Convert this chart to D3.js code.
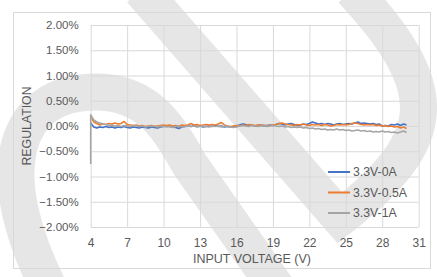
<!DOCTYPE html>
<html>
<head>
<meta charset="utf-8">
<script src="https://cdn.jsdelivr.net/npm/d3@7"></script>
<style>
  body { margin: 0; background: #fff; }
  svg { display: block; font-family: "Liberation Sans", Arial, sans-serif; }
</style>
</head>
<body>
<div id="chart"></div>
<script>
// Input voltage samples (V)
const volts = [
  4, 4.25, 4.5, 4.75, 5, 5.25, 5.5, 5.75, 6, 6.25, 6.5, 6.75, 7, 7.25, 7.5, 7.75,
  8, 8.25, 8.5, 8.75, 9, 9.25, 9.5, 9.75, 10, 10.25, 10.5, 10.75, 11, 11.25, 11.5, 11.75,
  12, 12.25, 12.5, 12.75, 13, 13.25, 13.5, 13.75, 14, 14.25, 14.5, 14.75, 15, 15.25, 15.5, 15.75,
  16, 16.25, 16.5, 16.75, 17, 17.25, 17.5, 17.75, 18, 18.25, 18.5, 18.75, 19, 19.25, 19.5, 19.75,
  20, 20.25, 20.5, 20.75, 21, 21.25, 21.5, 21.75, 22, 22.25, 22.5, 22.75, 23, 23.25, 23.5, 23.75,
  24, 24.25, 24.5, 24.75, 25, 25.25, 25.5, 25.75, 26, 26.25, 26.5, 26.75, 27, 27.25, 27.5, 27.75,
  28, 28.25, 28.5, 28.75, 29, 29.25, 29.5, 29.75, 30
];

// Regulation (%) per series
const reg0A = [
  0.06, -0.02, -0.04, -0.02, -0.03, -0.01, -0.03, -0.02, -0.04, -0.02, -0.03, -0.01, -0.03, -0.04, -0.02, -0.03,
  -0.04, -0.02, -0.03, -0.04, -0.02, -0.03, -0.04, -0.02, -0.01, 0.00, -0.01, -0.02, -0.03, -0.05, -0.02, -0.01,
  0.00, -0.01, 0.01, -0.01, 0.00, -0.02, -0.01, 0.00, -0.01, 0.01, -0.01, 0.00, -0.02, -0.01, -0.02, -0.01,
  0.00, 0.02, 0.04, 0.03, 0.01, 0.02, 0.00, 0.01, 0.02, 0.00, 0.01, 0.02, 0.01, 0.03, 0.05, 0.04,
  0.02, 0.04, 0.05, 0.03, 0.01, 0.02, 0.04, 0.03, 0.05, 0.08, 0.06, 0.04, 0.05, 0.03, 0.05, 0.04,
  0.02, 0.04, 0.05, 0.03, 0.04, 0.05, 0.04, 0.06, 0.08, 0.05, 0.06, 0.05, 0.04, 0.05, 0.03, 0.04,
  0.00, 0.01, 0.00, 0.03, 0.02, 0.04, 0.01, 0.04, 0.02
];
const reg05A = [
  0.20, 0.08, 0.05, 0.02, 0.04, 0.03, 0.05, 0.04, 0.06, 0.04, 0.05, 0.09, 0.03, 0.02, 0.01, 0.02,
  0.00, 0.01, -0.01, 0.00, 0.01, -0.01, 0.00, 0.01, 0.02, 0.01, 0.02, 0.00, 0.01, -0.01, 0.02, 0.01,
  0.02, 0.05, 0.02, 0.03, 0.01, 0.02, 0.03, 0.02, 0.03, 0.02, 0.04, 0.07, 0.02, 0.00, -0.01, 0.00,
  0.01, 0.00, 0.02, 0.01, 0.03, 0.02, 0.01, 0.02, 0.01, 0.02, 0.00, 0.01, 0.02, 0.03, 0.05, 0.06,
  0.04, 0.03, 0.02, 0.01, 0.03, 0.02, 0.04, 0.02, 0.01, 0.03, 0.02, 0.03, 0.01, 0.03, 0.02, 0.00,
  0.01, 0.03, 0.02, 0.03, 0.02, 0.03, 0.05, 0.06, 0.05, 0.03, 0.02, 0.03, 0.02, 0.03, 0.01, 0.02,
  0.00, 0.01, -0.01, 0.00, -0.02, -0.01, -0.04, -0.02, -0.05
];
// 1A trace starts with a dip at 4 V before the first grid sample
const reg1AStart = -0.75;
const reg1A = [
  0.22, 0.12, 0.08, 0.06, 0.04, 0.03, 0.01, 0.02, 0.00, 0.01, -0.01, 0.01, 0.00, -0.01, 0.01, 0.00,
  -0.01, 0.00, -0.02, 0.00, -0.01, 0.00, -0.02, -0.01, 0.00, -0.02, -0.01, -0.03, -0.01, 0.00, -0.02, -0.01,
  0.00, -0.01, 0.00, -0.02, -0.01, 0.00, -0.01, -0.02, 0.00, -0.01, 0.00, -0.02, -0.01, 0.00, -0.02, -0.03,
  -0.02, 0.00, 0.01, 0.00, -0.01, 0.01, 0.00, -0.01, 0.00, 0.01, -0.01, 0.00, 0.01, 0.00, -0.01, 0.00,
  -0.02, -0.01, -0.03, -0.02, -0.03, -0.02, -0.04, -0.03, -0.05, -0.04, -0.06, -0.05, -0.07, -0.06, -0.08, -0.07,
  -0.08, -0.06, -0.08, -0.07, -0.09, -0.08, -0.10, -0.09, -0.08, -0.10, -0.09, -0.11, -0.10, -0.12, -0.11, -0.12,
  -0.10, -0.12, -0.11, -0.13, -0.12, -0.14, -0.12, -0.10, -0.13
];

const seriesNames = ["3.3V-0A", "3.3V-0.5A", "3.3V-1A"];
const seriesColors = ["#4472c4", "#ed7d31", "#a5a5a5"];
const xTicks = [4, 7, 10, 13, 16, 19, 22, 25, 28, 31];
const yTicks = [-2, -1.5, -1, -0.5, 0, 0.5, 1, 1.5, 2];

const width = 437, height = 277;
const plot = { left: 90.7, right: 418.7, top: 25, bottom: 227 };

const svg = d3.select("#chart").append("svg")
  .attr("width", width)
  .attr("height", height);

// watermark in the background
const wm = svg.append("g")
  .attr("fill", "none")
  .attr("stroke", "#e6e6e6")
  .attr("stroke-width", 37);
wm.append("path").attr("d", "M55,300 C-15,170 15,90 98,92 C150,93 170,130 190,165 L285,300");
wm.append("path")
  .attr("stroke-linejoin", "miter")
  .attr("d", "M141,-10 L340,218 C440,140 445,90 352,-10");

// chart border
svg.append("rect")
  .attr("x", 13.5).attr("y", 12.5)
  .attr("width", 417).attr("height", 256)
  .attr("fill", "none")
  .attr("stroke", "#d9d9d9");

const x = d3.scaleLinear().domain([4, 31]).range([plot.left, plot.right]);
const y = d3.scaleLinear().domain([-2, 2]).range([plot.bottom, plot.top]);

// grid
svg.append("g")
  .attr("transform", `translate(0,${plot.bottom})`)
  .call(d3.axisBottom(x).tickValues(xTicks).tickSize(-(plot.bottom - plot.top)).tickFormat(""))
  .call(g => g.select(".domain").remove())
  .call(g => g.selectAll("line").attr("stroke", "#d9d9d9"));

svg.append("g")
  .attr("transform", `translate(${plot.left},0)`)
  .call(d3.axisLeft(y).tickValues(yTicks).tickSize(-(plot.right - plot.left)).tickFormat(""))
  .call(g => g.select(".domain").remove())
  .call(g => g.selectAll("line").attr("stroke", "#d9d9d9"));

// tick labels
svg.append("g")
  .attr("transform", `translate(0,${plot.bottom + 11})`)
  .call(d3.axisBottom(x).tickValues(xTicks).tickSize(0).tickPadding(0))
  .call(g => g.select(".domain").remove())
  .call(g => g.selectAll("text").attr("fill", "#595959").attr("font-size", 12)
    .attr("font-family", "Liberation Sans, Arial, sans-serif"));

svg.append("g")
  .attr("transform", `translate(${plot.left - 12},0)`)
  .call(d3.axisLeft(y).tickValues(yTicks).tickSize(0).tickPadding(0).tickFormat(d3.format(".2%")).tickFormat(d => d3.format(".2f")(d) + "%"))
  .call(g => g.select(".domain").remove())
  .call(g => g.selectAll("text").attr("fill", "#595959").attr("font-size", 11.5)
    .attr("font-family", "Liberation Sans, Arial, sans-serif"));

// axis titles
svg.append("text")
  .attr("x", 252).attr("y", 262.5)
  .attr("text-anchor", "middle")
  .attr("fill", "#595959").attr("font-size", 12.5)
  .text("INPUT VOLTAGE (V)");

svg.append("text")
  .attr("transform", "translate(31,126) rotate(-90)")
  .attr("text-anchor", "middle")
  .attr("fill", "#595959").attr("font-size", 12.3)
  .text("REGULATION");

// lines
const line = d3.line().x(d => x(d[0])).y(d => y(d[1]));
const seriesData = [
  volts.map((v, i) => [v, reg0A[i]]),
  volts.map((v, i) => [v, reg05A[i]]),
  [[volts[0], reg1AStart]].concat(volts.map((v, i) => [v, reg1A[i]]))
];

svg.append("g").selectAll("path")
  .data(seriesData)
  .join("path")
  .attr("fill", "none")
  .attr("stroke", (d, i) => seriesColors[i])
  .attr("stroke-width", 1.6)
  .attr("stroke-linejoin", "round")
  .attr("d", line);

// legend
const legend = svg.append("g").selectAll("g")
  .data(seriesNames)
  .join("g")
  .attr("transform", (d, i) => `translate(328,${172 + i * 20.5})`);

legend.append("line")
  .attr("x1", 0).attr("x2", 22)
  .attr("stroke", (d, i) => seriesColors[i])
  .attr("stroke-width", 2);

legend.append("text")
  .attr("x", 25).attr("dy", "0.36em")
  .attr("fill", "#595959").attr("font-size", 12.3)
  .text(d => d);
</script>
</body>
</html>
